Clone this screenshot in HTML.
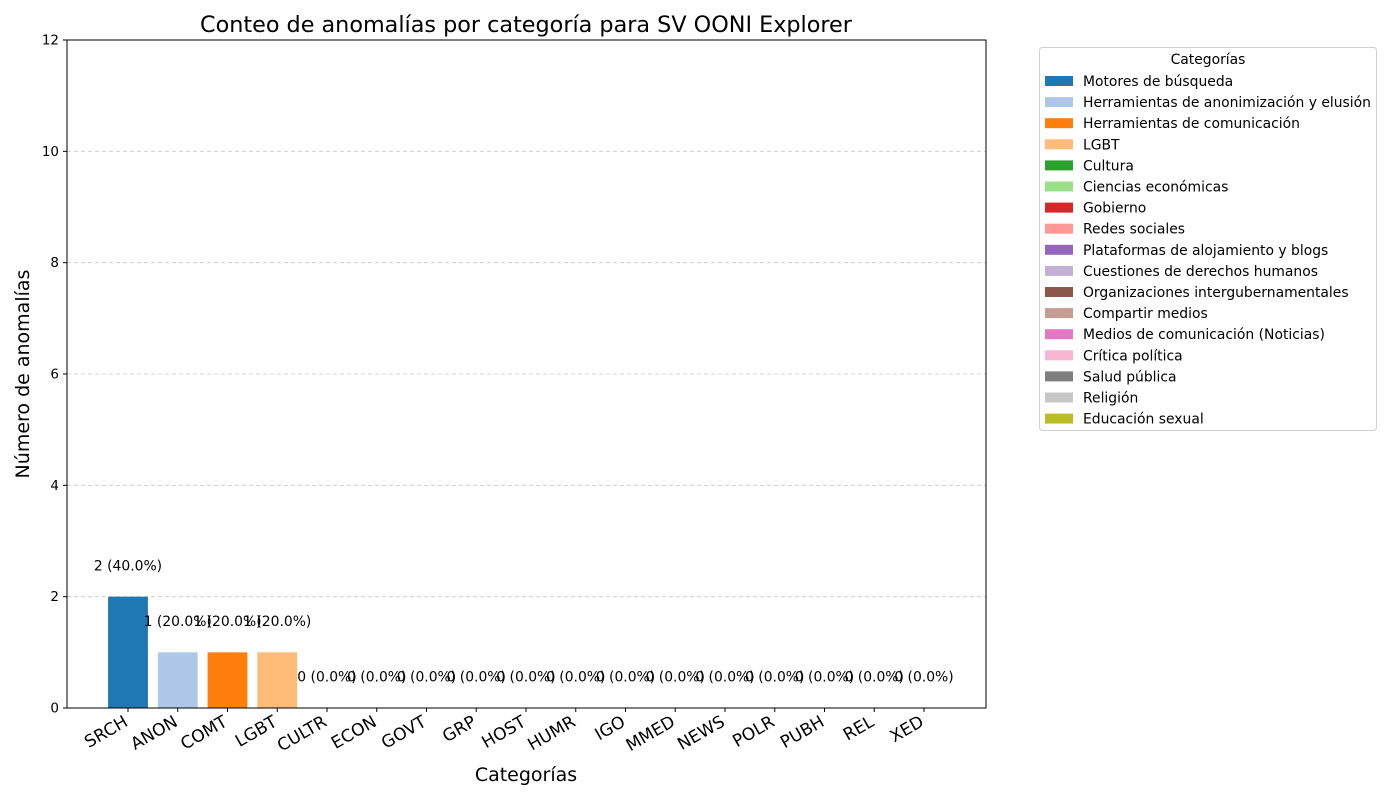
<!DOCTYPE html>
<html><head><meta charset="utf-8"><style>
body{margin:0;background:#fff;}
svg{display:block;font-family:"DejaVu Sans","Liberation Sans",sans-serif;}
</style></head><body>
<svg id="chart" width="1400" height="800"></svg>
<script>
const categories=["SRCH","ANON","COMT","LGBT","CULTR","ECON","GOVT","GRP","HOST","HUMR","IGO","MMED","NEWS","POLR","PUBH","REL","XED"];
const counts=[2,1,1,1,0,0,0,0,0,0,0,0,0,0,0,0,0];
const colors=["#1f77b4","#aec7e8","#ff7f0e","#ffbb78","#2ca02c","#98df8a","#d62728","#ff9896","#9467bd","#c5b0d5","#8c564b","#c49c94","#e377c2","#f7b6d2","#7f7f7f","#c7c7c7","#bcbd22"];
const legendLabels=["Motores de búsqueda","Herramientas de anonimización y elusión","Herramientas de comunicación","LGBT","Cultura","Ciencias económicas","Gobierno","Redes sociales","Plataformas de alojamiento y blogs","Cuestiones de derechos humanos","Organizaciones intergubernamentales","Compartir medios","Medios de comunicación (Noticias)","Crítica política","Salud pública","Religión","Educación sexual"];
const yTicks=[0,2,4,6,8,10,12];

const NS="http://www.w3.org/2000/svg";
const svg=document.getElementById('chart');
function el(t,a,txt){const e=document.createElementNS(NS,t);for(const k in a)e.setAttribute(k,a[k]);if(txt!==undefined)e.textContent=txt;svg.appendChild(e);return e;}
const L=67,R=986,T=40,B=708;
const yMax=12;
const y=v=>B-(v/yMax)*(B-T);
const x=i=>128+i*49.75;
const bw=39.8;
const total=counts.reduce((a,b)=>a+b,0);

yTicks.forEach(v=>{
  if(v>0&&v<yMax){const g=el('line',{x1:L,x2:R,y1:y(v),y2:y(v),stroke:'#c8c8c8','stroke-dasharray':'4,3','stroke-width':0.8});
  
  }
});
counts.forEach((c,i)=>{
  const r=el('rect',{x:x(i)-bw/2,y:y(c),width:bw,height:B-y(c),fill:colors[i]});
  
  
  const pct=total?(c/total*100).toFixed(1):'0.0';
  const t=el('text',{x:x(i),y:y(c+0.5)+1.5,'text-anchor':'middle','font-size':13.9,fill:'#000'},c+' ('+pct+'%)');
  
  
});
const fr=el('rect',{x:L,y:T,width:R-L,height:B-T,fill:'none',stroke:'#000','stroke-width':1});


yTicks.forEach(v=>{
  el('line',{x1:L-4,x2:L,y1:y(v),y2:y(v),stroke:'#000'});
  const t=el('text',{x:L-8,y:y(v)+4.5,'text-anchor':'end','font-size':13.5},v);
  
  
});
categories.forEach((c,i)=>{
  el('line',{x1:x(i),x2:x(i),y1:B,y2:B+4,stroke:'#000'});
  const t=el('text',{x:x(i)+1,y:B+17,'text-anchor':'end','font-size':17,transform:`rotate(-30 ${x(i)+1} ${B+17})`},c);
  
  
});
let t=el('text',{x:526,y:32,'text-anchor':'middle','font-size':22.3},'Conteo de anomalías por categoría para SV OONI Explorer');

t=el('text',{x:526,y:781,'text-anchor':'middle','font-size':19},'Categorías');

t=el('text',{x:29,y:374,'text-anchor':'middle','font-size':19,transform:'rotate(-90 29 374)'},'Número de anomalías');

const lb=el('rect',{x:1039.5,y:47.5,width:337,height:383,fill:'#fff',stroke:'#d0d0d0',rx:3});

t=el('text',{x:1208,y:64,'text-anchor':'middle','font-size':13.9},'Categorías');

legendLabels.forEach((lab,i)=>{
  const yy=81+i*21.1;
  const p=el('rect',{x:1045,y:yy-5,width:28,height:10,fill:colors[i]});
  
  const tx=el('text',{x:1083,y:yy+5,'font-size':13.9},lab);
  
});
</script>
</body></html>
